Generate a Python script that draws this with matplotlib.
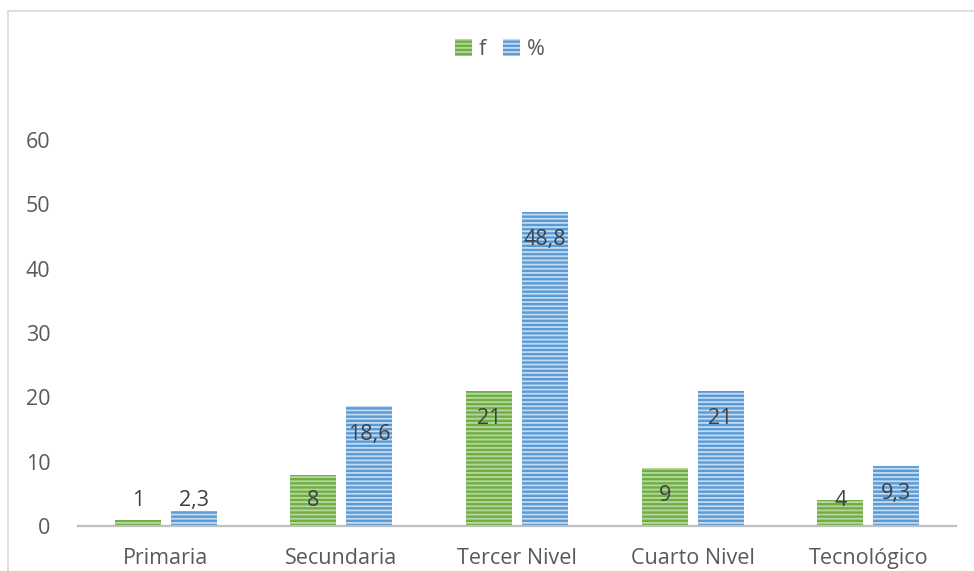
import matplotlib
matplotlib.use("Agg")
import matplotlib.pyplot as plt
import matplotlib.patches as mpatches
import numpy as np

# ── Data ──────────────────────────────────────────────────────────────────────
categories = ["Primaria", "Secundaria", "Tercer Nivel", "Cuarto Nivel", "Tecnológico"]
freq       = [1, 8, 21, 9, 4]
percent    = [2.3, 18.6, 48.8, 21, 9.3]
freq_labels    = ["1", "8", "21", "9", "4"]
percent_labels = ["2,3", "18,6", "48,8", "21", "9,3"]
yticks = [0, 10, 20, 30, 40, 50, 60]

# ── Style ─────────────────────────────────────────────────────────────────────
GREEN, GREEN_LT = "#70AD47", "#B5D99C"
BLUE,  BLUE_LT  = "#5B9BD5", "#C3DCF2"
TEXT = "#595959"
plt.rcParams["font.family"] = ["Open Sans", "DejaVu Sans"]
plt.rcParams["hatch.linewidth"] = 1.3
FS = 15.5

fig = plt.figure(figsize=(9.74, 5.71), dpi=100)
ax = fig.add_axes([0.0801, 0.0788, 0.9014, 0.676])

# light frame around the chart area
fig.patches.append(mpatches.Rectangle((8 / 974, -0.1), 1.2, 1 - 11 / 571 + 0.1,
                                      transform=fig.transFigure, fill=False,
                                      edgecolor="#D9D9D9", linewidth=1.2))

x = np.arange(len(categories))
w = 0.262
off = 0.159
b1 = ax.bar(x - off, freq, w, color=GREEN, edgecolor=GREEN_LT, linewidth=0,
            hatch="----", label="f")
b2 = ax.bar(x + off, percent, w, color=BLUE, edgecolor=BLUE_LT, linewidth=0,
            hatch="----", label="%")

# value labels just inside the bar top, never lower than the baseline band
def put_labels(xs, vals, texts):
    for xi, v, t in zip(xs, vals, texts):
        y = max(v - 4.3, 3.9)
        ax.text(xi, y, t, ha="center", va="center", fontsize=FS, color="#404040")

put_labels(x - off, freq, freq_labels)
put_labels(x + off, percent, percent_labels)

ax.set_xlim(-0.5, len(categories) - 0.5)
ax.set_ylim(0, 60)
ax.set_yticks(yticks)
ax.set_xticks(x)
ax.set_xticklabels(categories)
ax.tick_params(axis="both", length=0, labelsize=FS, labelcolor=TEXT)
ax.tick_params(axis="y", pad=20)
ax.tick_params(axis="x", pad=16)
for s in ["top", "right", "left"]:
    ax.spines[s].set_visible(False)
ax.spines["bottom"].set_color("#BFBFBF")
ax.spines["bottom"].set_linewidth(1.6)
ax.spines["bottom"].set_zorder(3)

leg = fig.legend(handles=[b1, b2], labels=["f", "%"], loc="center",
                 bbox_to_anchor=(0.513, 0.913), ncol=2, frameon=False,
                 fontsize=FS, handlelength=0.8, handleheight=0.8,
                 handletextpad=0.3, columnspacing=0.8, labelcolor=TEXT)

fig.savefig("out.png", dpi=100)
